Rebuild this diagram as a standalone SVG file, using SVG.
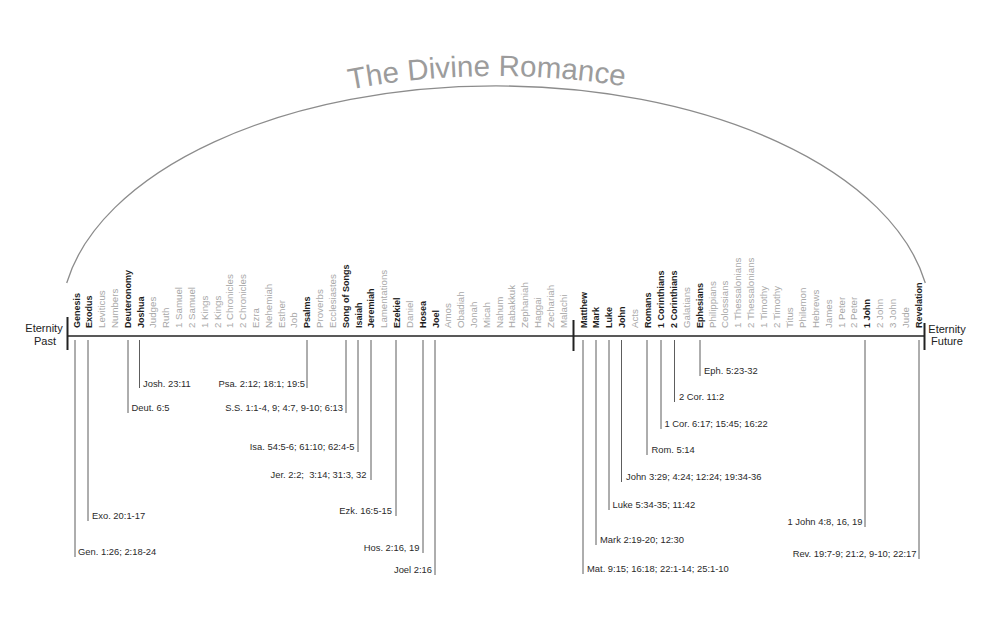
<svg xmlns="http://www.w3.org/2000/svg" width="1000" height="623" viewBox="0 0 1000 623">
<style>
text{font-family:"Liberation Sans",Arial,sans-serif}
.title{font-size:29.5px;fill:#9c9c9c}
.bk{font-size:9.7px;fill:#a8a8a8}
.bd{font-size:9px;font-weight:bold;fill:#1e1e1e}
.ref{font-size:9.4px;fill:#2a2a2a}
.end{text-anchor:end}
.et{font-size:11px;fill:#222;text-anchor:middle}
.arc{fill:none;stroke:#8c8c8c;stroke-width:1.3}
.axis{fill:none;stroke:#222;stroke-width:1.6}
.bar{fill:none;stroke:#222;stroke-width:2}
#connectors line{stroke:#333;stroke-width:0.8}
</style>
<defs>
<path id="titlePath" d="M 230 124.4 A 445 244 0 0 1 745 117.8"/>
</defs>
<rect width="1000" height="623" fill="#fff"/>
<g id="title"><text class="title"><textPath href="#titlePath" startOffset="50%" text-anchor="middle">The Divine Romance</textPath></text></g>
<path id="arc" class="arc" d="M 66.7 283 A 435 235 0 0 1 925.3 283"/>
<g id="timeline">
<line class="axis" x1="67.5" y1="336" x2="924.5" y2="336"/>
<line class="bar" x1="67.5" y1="317" x2="67.5" y2="350"/>
<line class="bar" x1="573.5" y1="320" x2="573.5" y2="351"/>
<line class="bar" x1="924.5" y1="323" x2="924.5" y2="350"/>
</g>
<g id="eternity-past"><text class="et" x="44" y="332">Eternity</text><text class="et" x="45" y="345">Past</text></g>
<g id="eternity-future"><text class="et" x="947" y="333">Eternity</text><text class="et" x="947" y="345">Future</text></g>
<g id="connectors">
<line x1="75" y1="340" x2="75" y2="557"/>
<line x1="88" y1="340" x2="88" y2="521"/>
<line x1="128" y1="340" x2="128" y2="413"/>
<line x1="139.5" y1="340" x2="139.5" y2="388"/>
<line x1="307" y1="340" x2="307" y2="388"/>
<line x1="346" y1="340" x2="346" y2="413"/>
<line x1="358" y1="340" x2="358" y2="452"/>
<line x1="371" y1="340" x2="371" y2="480"/>
<line x1="396" y1="340" x2="396" y2="516"/>
<line x1="423" y1="340" x2="423" y2="553"/>
<line x1="435" y1="340" x2="435" y2="575"/>
<line x1="583" y1="340" x2="583" y2="574"/>
<line x1="596" y1="340" x2="596" y2="545"/>
<line x1="609" y1="340" x2="609" y2="510"/>
<line x1="621.5" y1="340" x2="621.5" y2="482"/>
<line x1="647" y1="340" x2="647" y2="455"/>
<line x1="661" y1="340" x2="661" y2="429"/>
<line x1="674.5" y1="340" x2="674.5" y2="402"/>
<line x1="700" y1="340" x2="700" y2="376"/>
<line x1="865" y1="340" x2="865" y2="527"/>
<line x1="919" y1="340" x2="919" y2="559"/>
</g>
<g id="old-testament">
<g id="genesis"><text class="bd" transform="translate(79.5,328) rotate(-90)">Genesis</text><text class="ref" x="78" y="555">Gen. 1:26; 2:18-24</text></g>
<g id="exodus"><text class="bd" transform="translate(92.3,328) rotate(-90)">Exodus</text><text class="ref" x="92" y="519">Exo. 20:1-17</text></g>
<g id="leviticus"><text class="bk" transform="translate(105.1,328) rotate(-90)">Leviticus</text></g>
<g id="numbers"><text class="bk" transform="translate(118,328) rotate(-90)">Numbers</text></g>
<g id="deuteronomy"><text class="bd" transform="translate(130.8,328) rotate(-90)">Deuteronomy</text><text class="ref" x="131.5" y="411">Deut. 6:5</text></g>
<g id="joshua"><text class="bd" transform="translate(143.6,328) rotate(-90)">Joshua</text><text class="ref" x="143" y="387">Josh. 23:11</text></g>
<g id="judges"><text class="bk" transform="translate(156.4,328) rotate(-90)">Judges</text></g>
<g id="ruth"><text class="bk" transform="translate(169.2,328) rotate(-90)">Ruth</text></g>
<g id="1samuel"><text class="bk" transform="translate(182.1,328) rotate(-90)">1 Samuel</text></g>
<g id="2samuel"><text class="bk" transform="translate(194.9,328) rotate(-90)">2 Samuel</text></g>
<g id="1kings"><text class="bk" transform="translate(207.7,328) rotate(-90)">1 Kings</text></g>
<g id="2kings"><text class="bk" transform="translate(220.5,328) rotate(-90)">2 Kings</text></g>
<g id="1chronicles"><text class="bk" transform="translate(233.3,328) rotate(-90)">1 Chronicles</text></g>
<g id="2chronicles"><text class="bk" transform="translate(246.2,328) rotate(-90)">2 Chronicles</text></g>
<g id="ezra"><text class="bk" transform="translate(259,328) rotate(-90)">Ezra</text></g>
<g id="nehemiah"><text class="bk" transform="translate(271.8,328) rotate(-90)">Nehemiah</text></g>
<g id="esther"><text class="bk" transform="translate(284.6,328) rotate(-90)">Esther</text></g>
<g id="job"><text class="bk" transform="translate(297.4,328) rotate(-90)">Job</text></g>
<g id="psalms"><text class="bd" transform="translate(310.3,328) rotate(-90)">Psalms</text><text class="ref end" x="305" y="387">Psa. 2:12; 18:1; 19:5</text></g>
<g id="proverbs"><text class="bk" transform="translate(323.1,328) rotate(-90)">Proverbs</text></g>
<g id="ecclesiastes"><text class="bk" transform="translate(335.9,328) rotate(-90)">Ecclesiastes</text></g>
<g id="songofsongs"><text class="bd" transform="translate(348.7,328) rotate(-90)">Song of Songs</text><text class="ref end" x="343" y="411">S.S. 1:1-4, 9; 4:7, 9-10; 6:13</text></g>
<g id="isaiah"><text class="bd" transform="translate(361.5,328) rotate(-90)">Isaiah</text><text class="ref end" x="354.5" y="450">Isa. 54:5-6; 61:10; 62:4-5</text></g>
<g id="jeremiah"><text class="bd" transform="translate(374.4,328) rotate(-90)">Jeremiah</text><text class="ref end" x="366.5" y="478" xml:space="preserve">Jer. 2:2;  3:14; 31:3, 32</text></g>
<g id="lamentations"><text class="bk" transform="translate(387.2,328) rotate(-90)">Lamentations</text></g>
<g id="ezekiel"><text class="bd" transform="translate(400,328) rotate(-90)">Ezekiel</text><text class="ref end" x="392" y="514">Ezk. 16:5-15</text></g>
<g id="daniel"><text class="bk" transform="translate(412.8,328) rotate(-90)">Daniel</text></g>
<g id="hosea"><text class="bd" transform="translate(425.6,328) rotate(-90)">Hosea</text><text class="ref end" x="419.5" y="551">Hos. 2:16, 19</text></g>
<g id="joel"><text class="bd" transform="translate(438.5,328) rotate(-90)">Joel</text><text class="ref end" x="432" y="573">Joel 2:16</text></g>
<g id="amos"><text class="bk" transform="translate(451.3,328) rotate(-90)">Amos</text></g>
<g id="obadiah"><text class="bk" transform="translate(464.1,328) rotate(-90)">Obadiah</text></g>
<g id="jonah"><text class="bk" transform="translate(476.9,328) rotate(-90)">Jonah</text></g>
<g id="micah"><text class="bk" transform="translate(489.7,328) rotate(-90)">Micah</text></g>
<g id="nahum"><text class="bk" transform="translate(502.6,328) rotate(-90)">Nahum</text></g>
<g id="habakkuk"><text class="bk" transform="translate(515.4,328) rotate(-90)">Habakkuk</text></g>
<g id="zephaniah"><text class="bk" transform="translate(528.2,328) rotate(-90)">Zephaniah</text></g>
<g id="haggai"><text class="bk" transform="translate(541,328) rotate(-90)">Haggai</text></g>
<g id="zechariah"><text class="bk" transform="translate(553.8,328) rotate(-90)">Zechariah</text></g>
<g id="malachi"><text class="bk" transform="translate(566.7,328) rotate(-90)">Malachi</text></g>
</g>
<g id="new-testament">
<g id="matthew"><text class="bd" transform="translate(586.5,328) rotate(-90)">Matthew</text><text class="ref" x="587" y="572">Mat. 9:15; 16:18; 22:1-14; 25:1-10</text></g>
<g id="mark"><text class="bd" transform="translate(599.4,328) rotate(-90)">Mark</text><text class="ref" x="600" y="543">Mark 2:19-20; 12:30</text></g>
<g id="luke"><text class="bd" transform="translate(612.3,328) rotate(-90)">Luke</text><text class="ref" x="612.5" y="508">Luke 5:34-35; 11:42</text></g>
<g id="john"><text class="bd" transform="translate(625.2,328) rotate(-90)">John</text><text class="ref" x="626" y="480">John 3:29; 4:24; 12:24; 19:34-36</text></g>
<g id="acts"><text class="bk" transform="translate(638.1,328) rotate(-90)">Acts</text></g>
<g id="romans"><text class="bd" transform="translate(651,328) rotate(-90)">Romans</text><text class="ref" x="651.5" y="453">Rom. 5:14</text></g>
<g id="1corinthians"><text class="bd" transform="translate(663.9,328) rotate(-90)">1 Corinthians</text><text class="ref" x="664.5" y="427">1 Cor. 6:17; 15:45; 16:22</text></g>
<g id="2corinthians"><text class="bd" transform="translate(676.8,328) rotate(-90)">2 Corinthians</text><text class="ref" x="679" y="400">2 Cor. 11:2</text></g>
<g id="galatians"><text class="bk" transform="translate(689.7,328) rotate(-90)">Galatians</text></g>
<g id="ephesians"><text class="bd" transform="translate(702.6,328) rotate(-90)">Ephesians</text><text class="ref" x="704" y="374">Eph. 5:23-32</text></g>
<g id="philippians"><text class="bk" transform="translate(715.5,328) rotate(-90)">Philippians</text></g>
<g id="colossians"><text class="bk" transform="translate(728.4,328) rotate(-90)">Colossians</text></g>
<g id="1thessalonians"><text class="bk" transform="translate(741.3,328) rotate(-90)">1 Thessalonians</text></g>
<g id="2thessalonians"><text class="bk" transform="translate(754.2,328) rotate(-90)">2 Thessalonians</text></g>
<g id="1timothy"><text class="bk" transform="translate(767.1,328) rotate(-90)">1 Timothy</text></g>
<g id="2timothy"><text class="bk" transform="translate(780,328) rotate(-90)">2 Timothy</text></g>
<g id="titus"><text class="bk" transform="translate(792.9,328) rotate(-90)">Titus</text></g>
<g id="philemon"><text class="bk" transform="translate(805.8,328) rotate(-90)">Philemon</text></g>
<g id="hebrews"><text class="bk" transform="translate(818.7,328) rotate(-90)">Hebrews</text></g>
<g id="james"><text class="bk" transform="translate(831.6,328) rotate(-90)">James</text></g>
<g id="1peter"><text class="bk" transform="translate(844.5,328) rotate(-90)">1 Peter</text></g>
<g id="2peter"><text class="bk" transform="translate(857.4,328) rotate(-90)">2 Peter</text></g>
<g id="1john"><text class="bd" transform="translate(870.3,328) rotate(-90)">1 John</text><text class="ref end" x="862.5" y="525">1 John 4:8, 16, 19</text></g>
<g id="2john"><text class="bk" transform="translate(883.2,328) rotate(-90)">2 John</text></g>
<g id="3john"><text class="bk" transform="translate(896.1,328) rotate(-90)">3 John</text></g>
<g id="jude"><text class="bk" transform="translate(909,328) rotate(-90)">Jude</text></g>
<g id="revelation"><text class="bd" transform="translate(921.9,328) rotate(-90)">Revelation</text><text class="ref end" x="916.5" y="557">Rev. 19:7-9; 21:2, 9-10; 22:17</text></g>
</g>
</svg>
